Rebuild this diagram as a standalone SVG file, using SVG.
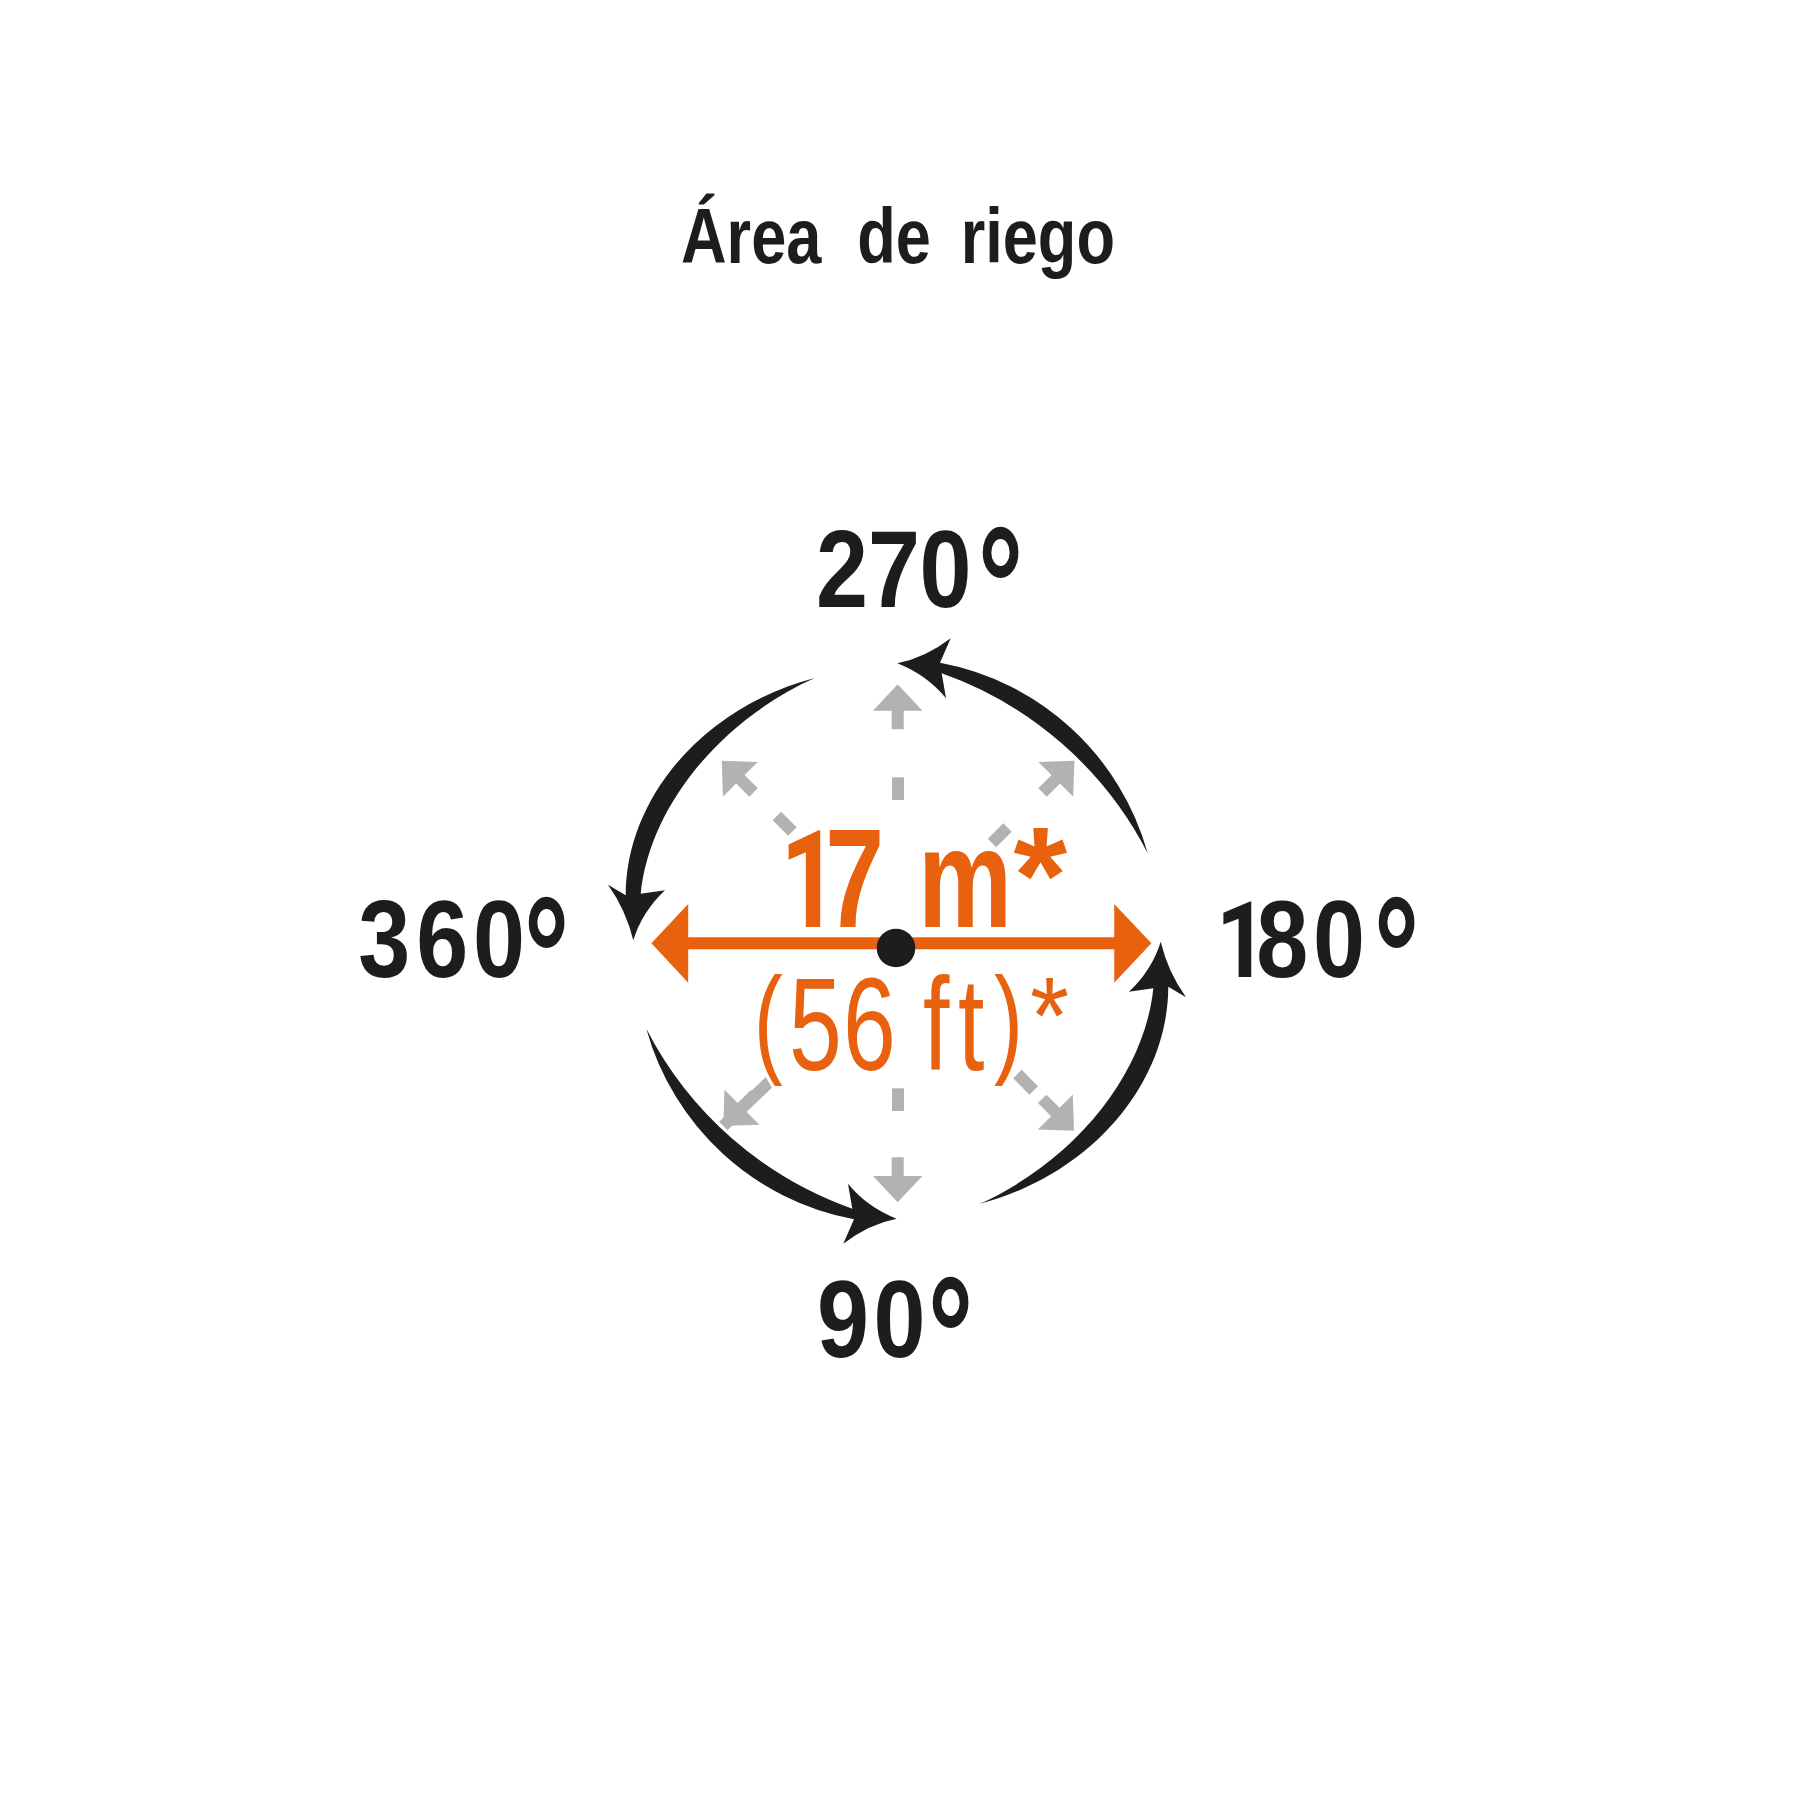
<svg xmlns="http://www.w3.org/2000/svg" width="1800" height="1800" viewBox="0 0 1800 1800">
  <style>
    .lbl { font-family: "Liberation Sans", Arial, sans-serif; font-weight: bold; fill: #1d1d1b; }
    .org { font-family: "Liberation Sans", Arial, sans-serif; fill: #e8610e; stroke: #ffffff; stroke-width: 8; stroke-linejoin: round; paint-order: stroke; }
    .one { font-family: Roboto, "Liberation Sans", sans-serif; letter-spacing: -18px; }
    .gray { fill: #b2b2b2; }
    .gdash { stroke: #b2b2b2; stroke-width: 12; fill: none; }
    .arc { fill: #1d1d1b; }
  </style>
  <defs>
    <path id="ga" d="M0 0 L24.7 26.4 H6 V45 H-6 V26.4 H-24.7 Z"/>
    <path id="arcA" d="M897.3 663.3 Q925 658 950.7 638.3 L940 662.7 A266 266 0 0 1 1147.7 853.3 A370 370 0 0 0 941.7 673.3 L946 698.3 Q927 675 897.3 663.3 Z"/>
    <path id="arcB" d="M1160.7 941.7 Q1168 972 1186 997.3 L1168.3 986.7 C1168 1085 1090 1175 979.3 1204 C1077 1160 1145 1072 1153.3 988.3 L1129 991.7 Q1152 970 1160.7 941.7 Z"/>
  </defs>
  <rect width="1800" height="1800" fill="#ffffff"/>

  <g id="title">
    <text class="lbl" font-size="77" transform="scale(0.82 1)" y="263"><tspan x="830.5">Área</tspan> <tspan x="1045.4">de</tspan> <tspan x="1171.5">riego</tspan></text>
  </g>

  <g id="connectors">
    <g id="spray-arrows">
      <use href="#ga" class="gray" transform="translate(897.7 684.3)"/>
      <use href="#ga" class="gray" transform="translate(897.7 1202.3) rotate(180)"/>
      <use href="#ga" class="gray" transform="translate(721.7 760.7) rotate(-45)"/>
      <use href="#ga" class="gray" transform="translate(1074.4 760.7) rotate(45)"/>
      <use href="#ga" class="gray" transform="translate(1074 1130.7) rotate(135)"/>
      <use href="#ga" class="gray" transform="translate(723.3 1126) rotate(-135)"/>
      <line class="gdash" x1="723.3" y1="1126" x2="771.7" y2="1079.7"/>
      <line class="gdash" x1="898" y1="777.3" x2="898" y2="800"/>
      <line class="gdash" x1="898" y1="1088.3" x2="898" y2="1111"/>
      <line class="gdash" x1="776.9" y1="815.9" x2="792.4" y2="831.4"/>
      <line class="gdash" x1="1007.5" y1="827.6" x2="992" y2="843"/>
      <line class="gdash" x1="1033.7" y1="1090.4" x2="1017.4" y2="1074.1"/>
    </g>
    <g id="rotation-arcs">
      <use href="#arcA" class="arc"/>
      <use href="#arcA" class="arc" transform="rotate(180 897 941)"/>
      <use href="#arcB" class="arc"/>
      <use href="#arcB" class="arc" transform="rotate(180 897 941)"/>
    </g>
  </g>

  <g id="distance">
    <text class="org" font-weight="bold" font-size="141" transform="scale(0.75 1)" y="926.7"><tspan class="one" x="1040.5" font-size="136">1</tspan><tspan x="1100.3 1178.7 1224">7 m</tspan><tspan x="1351.3" font-size="138" dy="-3.9" textLength="71.5" lengthAdjust="spacingAndGlyphs">*</tspan></text>
    <text class="org" font-size="132" transform="scale(0.72 1)" y="1070"><tspan x="1046.8" font-size="121" dy="-8.5">(</tspan><tspan x="1095.7 1170.8 1244.2 1282.1 1330.6" dy="8.5">56 ft</tspan><tspan x="1380.7" font-size="121" dy="-8.5">)</tspan><tspan x="1430.6" font-size="110" dy="-8.3" textLength="54.2" lengthAdjust="spacingAndGlyphs">*</tspan></text>
  </g>

  <g id="diameter-arrow">
    <path fill="#e8610e" d="M651.4 943.3 L688.2 904 V937.3 H1114.2 V904 L1151.4 943.3 L1114.2 982.7 V949.3 H688.2 V982.7 Z"/>
  </g>
  <g id="center">
    <circle cx="896" cy="948" r="19.3" fill="#1d1d1b"/>
  </g>

  <g id="label-270">
    <text class="lbl" font-size="110" transform="scale(0.85 1)" x="960 1021.2 1081.9" y="607">270<tspan x="1150.2" font-size="167" dy="36.1" textLength="53.6" lengthAdjust="spacingAndGlyphs">°</tspan></text>
  </g>
  <g id="label-360">
    <text class="lbl" font-size="110" transform="scale(0.85 1)" x="421.6 489.8 556.5" y="977">360<tspan x="616.1" font-size="167" dy="36.1" textLength="53.6" lengthAdjust="spacingAndGlyphs">°</tspan></text>
  </g>
  <g id="label-180">
    <text class="lbl" font-size="110" y="977" transform="scale(0.85 1)"><tspan class="one" x="1430.5" font-size="106">1</tspan><tspan x="1478 1544.7">80</tspan><tspan x="1616.1" font-size="167" dy="36.1" textLength="53.6" lengthAdjust="spacingAndGlyphs">°</tspan></text>
  </g>
  <g id="label-90">
    <text class="lbl" font-size="110" transform="scale(0.85 1)" x="961.2 1027.8" y="1357">90<tspan x="1091.4" font-size="167" dy="36.1" textLength="53.6" lengthAdjust="spacingAndGlyphs">°</tspan></text>
  </g>
</svg>
